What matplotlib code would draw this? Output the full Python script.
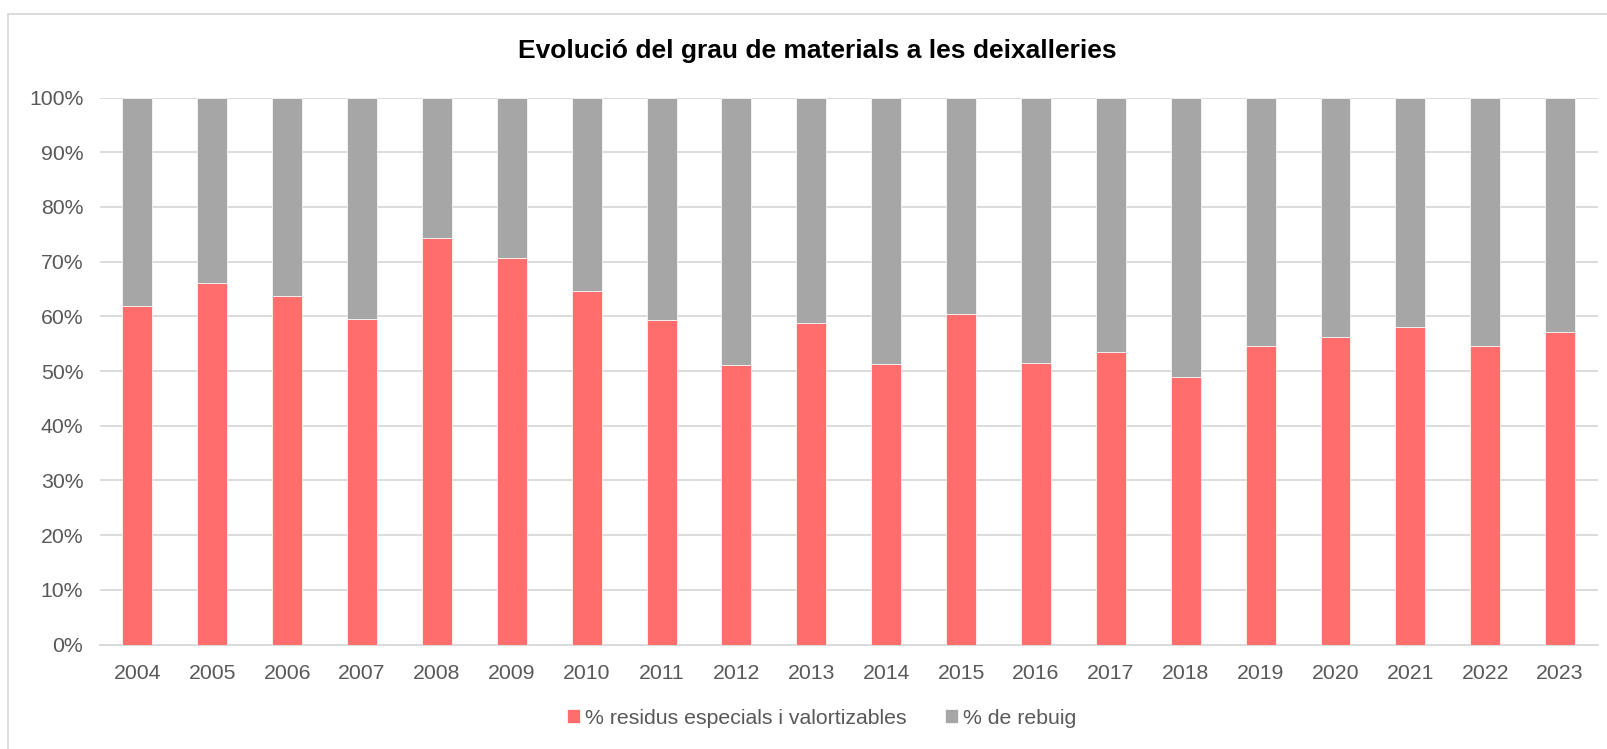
import matplotlib
matplotlib.use("Agg")
import matplotlib.pyplot as plt
import numpy as np
from matplotlib.patches import Rectangle
from matplotlib.ticker import PercentFormatter

plt.rcParams['font.family'] = ['Liberation Sans', 'DejaVu Sans']

# data (share of materials, %)
years = ['2004', '2005', '2006', '2007', '2008', '2009', '2010', '2011', '2012', '2013',
         '2014', '2015', '2016', '2017', '2018', '2019', '2020', '2021', '2022', '2023']
valoritzables = [61.9, 66.1, 63.8, 59.5, 74.4, 70.7, 64.6, 59.4, 51.1, 58.7,
                 51.3, 60.5, 51.5, 53.5, 48.9, 54.6, 56.3, 58.1, 54.6, 57.1]
rebuig = [100 - v for v in valoritzables]

RED = '#FF6D6D'
GREY = '#A6A6A6'
TXT = '#595959'

fig = plt.figure(figsize=(16.08, 7.49), dpi=100)
ax = fig.add_axes([0.0622, 0.1395, 0.9313, 0.7303])

# outer chart frame (left and top edges visible only)
fig.patches.append(Rectangle((8 / 1608, -0.2), 1.5, 1.2 - 14 / 749,
                             transform=fig.transFigure, fill=False,
                             edgecolor='#D9D9D9', linewidth=1.3, zorder=0))

x = np.arange(len(years))
ax.bar(x, valoritzables, width=0.4, color=RED, edgecolor='white', linewidth=0.5,
       label='% residus especials i valortizables', zorder=3)
ax.bar(x, rebuig, width=0.4, bottom=valoritzables, color=GREY, edgecolor='white',
       linewidth=0.5, label='% de rebuig', zorder=3)

ax.set_xlim(-0.5, len(years) - 0.5)
ax.set_ylim(0, 100)
ax.set_yticks(np.arange(0, 101, 10))
ax.yaxis.set_major_formatter(PercentFormatter(decimals=0))
ax.set_xticks(x)
ax.set_xticklabels(years)
ax.grid(axis='y', color='#D9D9D9', linewidth=1.3, zorder=0)
ax.set_axisbelow(True)
for s in ['top', 'right', 'left']:
    ax.spines[s].set_visible(False)
ax.spines['bottom'].set_color('#D9D9D9')
ax.spines['bottom'].set_linewidth(1.3)
ax.tick_params(axis='both', length=0, labelsize=15.3, colors=TXT)
ax.tick_params(axis='y', pad=12)
ax.tick_params(axis='x', pad=14)

fig.text(0.508, 1 - 51 / 749, 'Evolució del grau de materials a les deixalleries',
         ha='center', va='center', fontsize=19, fontweight='bold', color='black')

leg = fig.legend(loc='center', bbox_to_anchor=(0.511, 1 - 718 / 749), ncol=2,
                 frameon=False, fontsize=15.3, handlelength=0.6, handleheight=0.6,
                 handletextpad=0.25, columnspacing=1.8)
for t in leg.get_texts():
    t.set_color(TXT)

fig.savefig('out.png', dpi=100)
